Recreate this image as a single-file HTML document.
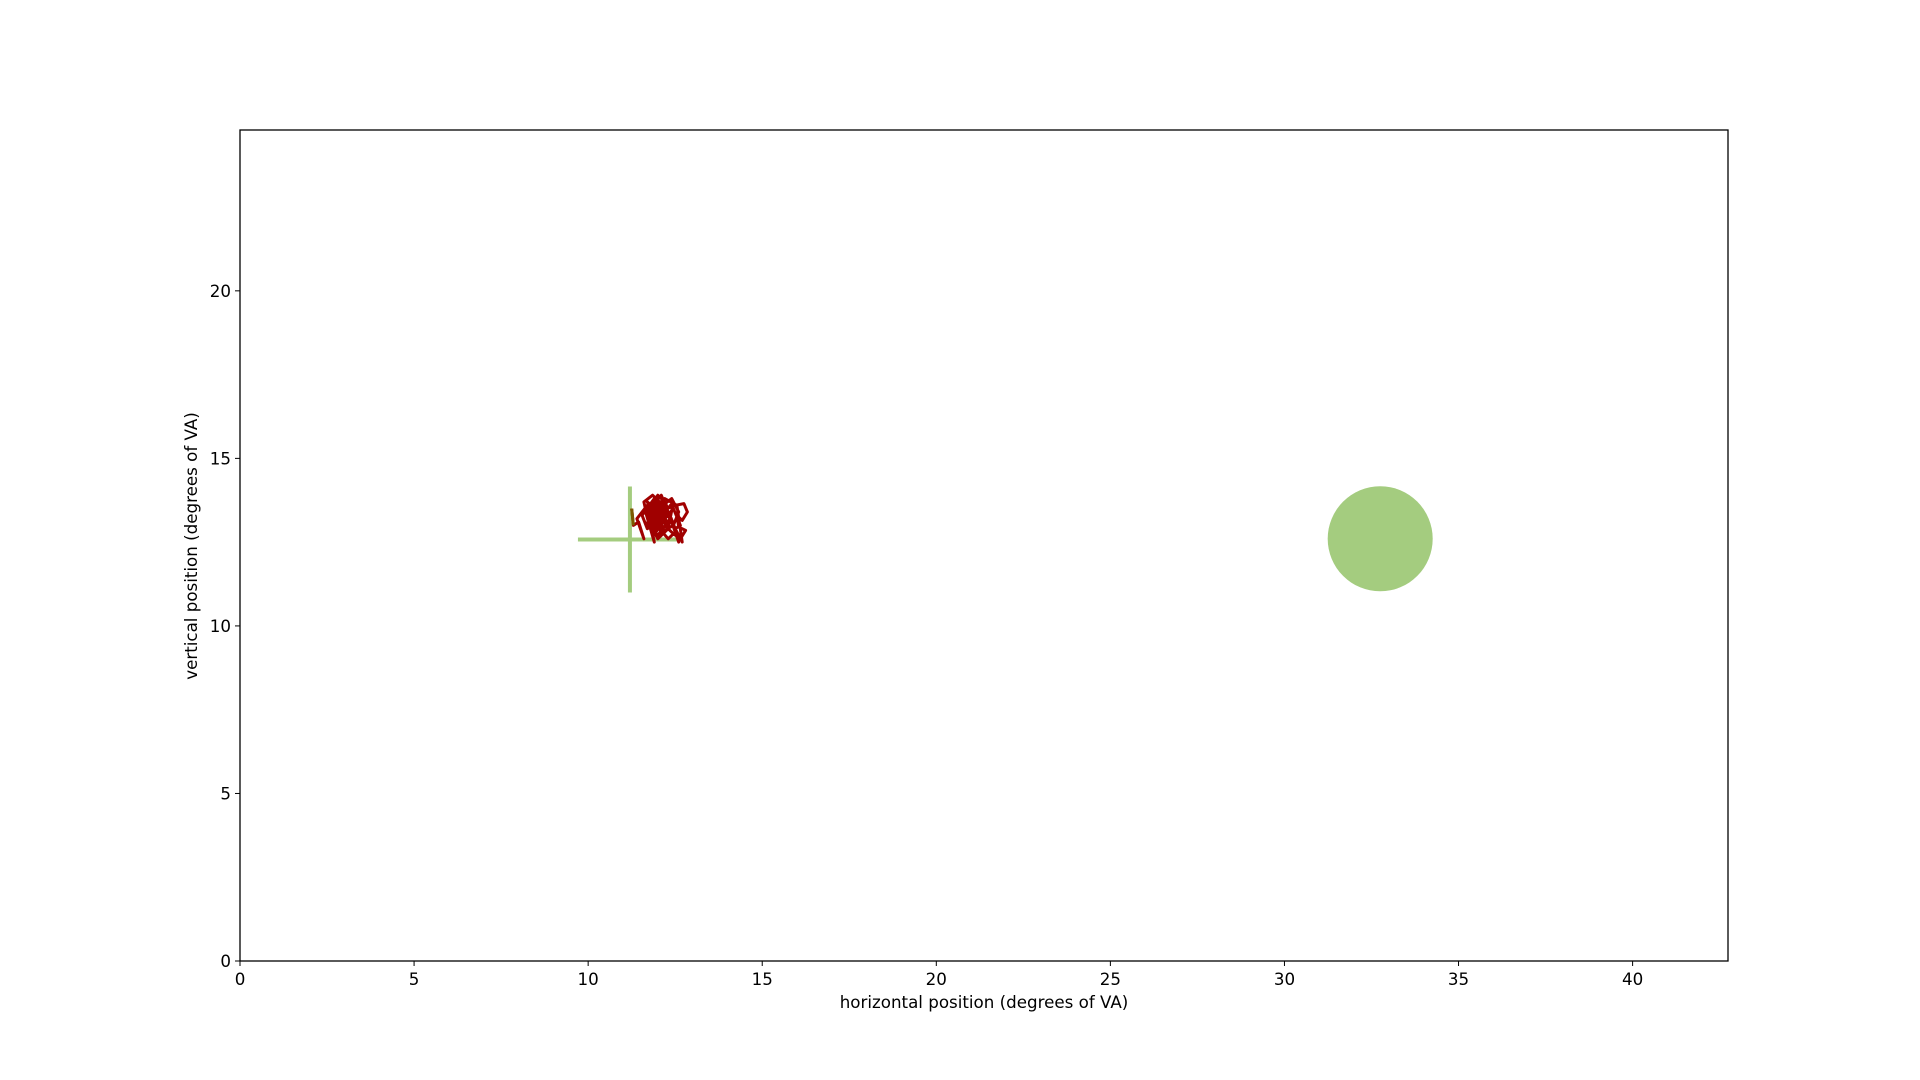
<!DOCTYPE html>
<html><head><meta charset="utf-8"><style>
html,body{margin:0;padding:0;background:#fff;width:1920px;height:1080px;overflow:hidden}
svg text{font-family:"DejaVu Sans","Liberation Sans",sans-serif;font-size:16.7px;fill:#000}
</style></head><body>
<svg id="chart" width="1920" height="1080" viewBox="0 0 1920 1080" xmlns="http://www.w3.org/2000/svg"></svg>
<script>
const xTicks=[0,5,10,15,20,25,30,35,40];
const yTicks=[0,5,10,15,20];
const gazeX=[11.25,11.3,11.45,11.6,11.4,11.7,11.9,11.65,12.0,12.2,11.8,12.3,12.5,12.6,12.4,12.7,12.55,12.2,11.9,11.7,12.1,12.35,12.0,11.75,11.6,11.85,12.15,12.4,12.6,12.45,12.1,11.8,11.95,12.25,12.05,11.7,11.55,11.9,12.2,12.45,12.3,12.0,11.8,12.1,12.35,12.5,12.65,12.45,12.2,11.95,11.75,11.85,12.1,12.3,12.05,11.9,
11.7,11.8,12.0,12.2,11.9,11.75,12.05,12.25,11.85,11.7,12.0,12.15,11.9,11.8,12.1,12.3,12.0,11.75,11.95,12.2,11.85,12.05,11.7,11.9,12.1,12.25,11.8,12.0,12.15,11.9,
12.5,12.75,12.85,12.7,12.55,12.6,12.8,12.65,12.45,12.2];
const gazeY=[13.5,13.0,13.1,12.6,13.2,13.6,12.5,13.4,13.9,13.7,13.2,12.6,12.8,12.5,13.1,12.5,13.6,13.8,13.3,12.9,13.5,13.2,12.7,13.0,13.7,13.9,13.6,13.8,13.4,13.0,12.8,13.3,13.7,13.5,13.1,12.9,13.3,13.8,13.4,13.7,12.9,12.6,13.0,13.5,13.3,12.9,13.0,13.5,13.2,12.8,13.4,13.6,13.9,13.4,13.1,13.3,
13.0,13.6,13.2,13.5,12.9,13.3,13.7,13.1,13.0,13.5,13.8,13.3,13.1,13.6,13.4,13.0,12.9,13.2,13.7,13.5,13.0,13.4,13.7,13.2,12.95,13.6,13.45,13.1,13.8,13.35,
13.6,13.65,13.4,13.15,13.3,12.95,12.85,12.6,12.75,13.0];
const crossX=[11.2], crossY=[12.58];
const targetX=[32.75], targetY=[12.6];

const L=240,R=1728,T=130,B=961;
const xmax=42.74,ymax=24.8;
const sx=v=>L+v/xmax*(R-L);
const sy=v=>B-v/ymax*(B-T);
const svg=document.getElementById('chart');
const NS='http://www.w3.org/2000/svg';
function mk(tag,attrs,name){const e=document.createElementNS(NS,tag);for(const k in attrs)e.setAttribute(k,attrs[k]);


svg.appendChild(e);return e;}

targetX.forEach((v,i)=>{mk('circle',{cx:sx(v),cy:sy(targetY[i]),r:52.5,fill:'#a4cc7f'},'target-circle');});
crossX.forEach((v,i)=>{
 const cx=sx(v),cy=sy(crossY[i]);
 mk('line',{x1:cx-52,y1:cy,x2:cx+53,y2:cy,stroke:'#a4cc7f','stroke-width':4},'fixation-cross-horizontal');
 mk('line',{x1:cx,y1:cy-53,x2:cx,y2:cy+53,stroke:'#a4cc7f','stroke-width':4},'fixation-cross-vertical');
});
let d='';gazeX.forEach((v,i)=>{d+=(i?'L':'M')+sx(v).toFixed(1)+','+sy(gazeY[i]).toFixed(1);});
mk('path',{d:d,fill:'none',stroke:'#a00000','stroke-width':3,'stroke-linejoin':'round'},'gaze-trace');
mk('line',{x1:sx(gazeX[0]),y1:sy(gazeY[0]),x2:sx(gazeX[1]),y2:sy(gazeY[1]),stroke:'#7a5a00','stroke-width':3},'gaze-start');
mk('rect',{x:L,y:T,width:R-L,height:B-T,fill:'none',stroke:'#000','stroke-width':1.3},'plot-frame');
xTicks.forEach(v=>{const x=sx(v);
 mk('line',{x1:x,y1:B,x2:x,y2:B+5,stroke:'#000','stroke-width':1},'x-tick');
 const t=mk('text',{x:x,y:B+24,'text-anchor':'middle'},'x-tick-label');t.textContent=v;});
yTicks.forEach(v=>{const y=sy(v);
 mk('line',{x1:L-5,y1:y,x2:L,y2:y,stroke:'#000','stroke-width':1},'y-tick');
 const t=mk('text',{x:L-9,y:y+6,'text-anchor':'end'},'y-tick-label');t.textContent=v;});
const xl=mk('text',{x:(L+R)/2,y:1008,'text-anchor':'middle'},'x-axis-title');xl.textContent='horizontal position (degrees of VA)';
const yl=mk('text',{x:0,y:0,'text-anchor':'middle',transform:'translate(197,546) rotate(-90)'},'y-axis-title');yl.textContent='vertical position (degrees of VA)';
</script>
</body></html>
